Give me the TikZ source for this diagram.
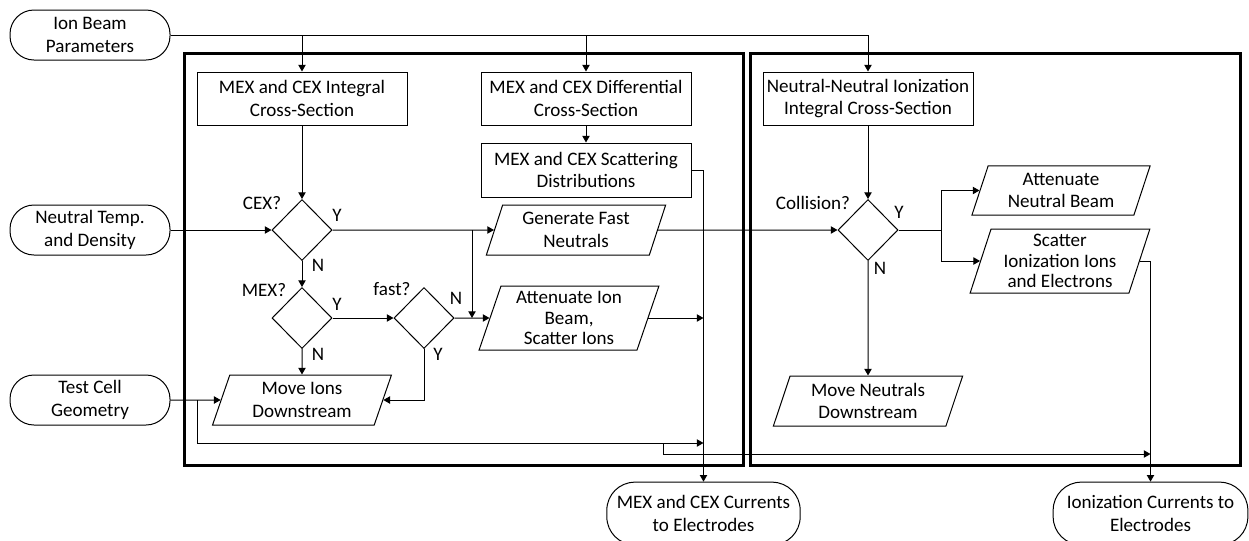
\documentclass[tikz,border=0pt]{standalone}
\usepackage{fontspec}
\setmainfont{Carlito}
\usetikzlibrary{shapes.geometric,arrows.meta}
\begin{document}
\begin{tikzpicture}[x=0.75pt,y=-0.75pt,
 every node/.style={font=\fontsize{14.3}{16.8}\selectfont, align=center, inner sep=1pt},
 line/.style={line width=0.75pt},
 arr/.style={line width=0.75pt,-{Triangle[length=5pt,width=5.5pt]}},
 term/.style={draw,line width=0.75pt,rounded corners=18pt,minimum width=120pt,minimum height=37.5pt},
 proc/.style={draw,line width=0.75pt,minimum width=157.5pt,minimum height=39.75pt},
 dec/.style={draw,line width=0.75pt,diamond,minimum width=45pt,minimum height=45.75pt,inner sep=0pt},
 io/.style={draw,line width=0.75pt,trapezium,trapezium left angle=72,trapezium right angle=108,trapezium stretches=true,minimum width=135pt},
 three/.style={font=\fontsize{14.3}{15.5}\selectfont,inner ysep=0pt},
 frame/.style={draw,line width=2.25pt},
 lbl/.style={inner sep=0pt}]
\useasboundingbox (0,0) rectangle (1249,540);
% frames
\draw[frame] (184,53) rectangle (743,465);
\draw[frame] (750,53) rectangle (1240,465);
% terminals
\node[term] (ibp) at (90,35) {Ion Beam\\Parameters};
\node[term] (ntd) at (90,230) {Neutral Temp.\\and Density};
\node[term] (tcg) at (90,400) {Test Cell\\Geometry};
\node[term,rounded corners=21pt,minimum width=145pt,minimum height=47pt] (mcc) at (703.5,513.5) {MEX and CEX Currents\\to Electrodes};
\node[term,rounded corners=21pt,minimum width=146pt,minimum height=47pt] (icc) at (1150.5,513.5) {Ionization Currents to\\Electrodes};
% processes
\node[proc] (mic) at (302,98.5) {MEX and CEX Integral\\Cross-Section};
\node[proc] (mdc) at (586,98.5) {MEX and CEX Differential\\Cross-Section};
\node[proc,minimum height=40.5pt] (msd) at (586,170) {MEX and CEX Scattering\\Distributions};
\node[proc] (nni) at (868,98.5) {Neutral-Neutral Ionization\\Integral Cross-Section};
% decisions
\node[dec] (cex) at (302,230) {};
\node[dec] (mex) at (302,318) {};
\node[dec] (fast) at (424,318) {};
\node[dec] (coll) at (868,230) {};
% io
\node[io,minimum height=37.5pt] (gfn) at (576,230) {Generate Fast\\Neutrals};
\node[io,three,minimum height=48pt] (aib) at (569,318) {Attenuate Ion\\Beam,\\Scatter Ions};
\node[io,minimum height=37.5pt] (mid) at (302,400) {Move Ions\\Downstream};
\node[io,minimum height=37pt] (anb) at (1061,190.5) {Attenuate\\Neutral Beam};
\node[io,three,minimum height=48pt] (sie) at (1060,261) {Scatter\\Ionization Ions\\and Electrons};
\node[io,minimum height=37.5pt,minimum width=142pt] (mnd) at (868,401) {Move Neutrals\\Downstream};
% labels
\node[lbl] (lcex) at (262,203) {CEX?};
\node[lbl] (lcexy) at (337,215) {Y};
\node[lbl] (lcexn) at (318,265) {N};
\node[lbl] (lmex) at (264,290) {MEX?};
\node[lbl] (lmexy) at (337,304) {Y};
\node[lbl] (lmexn) at (318,354) {N};
\node[lbl] (lfast) at (392,289) {fast?};
\node[lbl] (lfastn) at (456,298) {N};
\node[lbl] (lfasty) at (438,354) {Y};
\node[lbl] (lcoll) at (813,203) {Collision?};
\node[lbl] (lcolly) at (899,212) {Y};
\node[lbl] (lcolln) at (880,268) {N};
% junctions
\coordinate (j1) at (472,230);
\coordinate (j2) at (941,230);
\coordinate (j3) at (197,400);
\coordinate (j4) at (197,443);
\coordinate (j6) at (663,443);
\coordinate (j7) at (663,454);
% connectors
\draw[arr] (ibp.east) -| (nni.north);
\draw[arr] (ibp.east -| mic.north) -- (mic.north);
\draw[arr] (ibp.east -| mdc.north) -- (mdc.north);
\draw[arr] (mdc) -- (msd);
\draw[arr] (mic) -- (cex);
\draw[arr] (ntd) -- (cex);
\draw[arr] (cex) -- (gfn);
\draw[arr] (j1) -- (j1 |- aib.west);
\draw[arr] (cex) -- (mex);
\draw[arr] (mex) -- (fast);
\draw[arr] (fast) -- (aib);
\draw[arr] (mex) -- (mid);
\draw[arr] (fast.south) |- (mid.east);
\draw[arr] (tcg) -- (mid);
\draw[arr] (j3) -- (j4) -- (j4 -| mcc.north);
\draw[arr] (j6) -- (j7) -- (j7 -| icc.north);
\draw[arr] (msd.east) -| (mcc.north);
\draw[arr] (aib.east) -- (aib.east -| mcc.north);
\draw[arr] (gfn) -- (coll);
\draw[arr] (nni) -- (coll);
\draw[line] (coll.east) -- (j2);
\draw[arr] (j2) |- (anb.west);
\draw[arr] (j2) |- (sie.west);
\draw[arr] (coll) -- (mnd);
\draw[arr] (sie.east) -| (icc.north);
\end{tikzpicture}
\end{document}
